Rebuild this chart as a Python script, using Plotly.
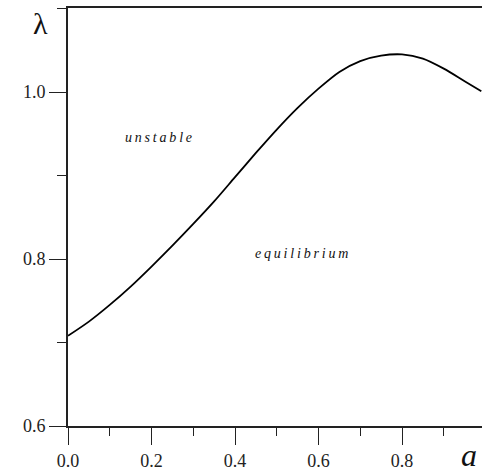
import plotly.graph_objects as go

# Stability boundary lambda(a)
a_vals = [0.00, 0.05, 0.10, 0.15, 0.20, 0.25, 0.30, 0.35, 0.40, 0.45, 0.50,
          0.55, 0.60, 0.65, 0.70, 0.75, 0.80, 0.85, 0.90, 0.95, 0.99]
lam_vals = [0.708, 0.725, 0.745, 0.767, 0.791, 0.816, 0.842, 0.869, 0.898, 0.927, 0.955,
            0.981, 1.004, 1.024, 1.037, 1.0435, 1.045, 1.040, 1.028, 1.013, 1.001]

x_ticks = [0.0, 0.2, 0.4, 0.6, 0.8]
x_labels = ["0.0", "0.2", "0.4", "0.6", "0.8"]
y_ticks = [0.6, 0.8, 1.0]
y_labels = ["0.6", "0.8", "1.0"]

serif = "'Liberation Serif', 'DejaVu Serif', serif"
thin = "\u2009"

fig = go.Figure()
fig.add_trace(go.Scatter(
    x=a_vals, y=lam_vals, mode="lines",
    line=dict(color="black", width=1.8, shape="spline", smoothing=0.8),
    hoverinfo="skip", showlegend=False,
))

axis_common = dict(
    showgrid=False, zeroline=False, showline=True, linecolor="#222", linewidth=2,
    ticks="outside", ticklen=17, tickwidth=1.2, tickcolor="#222",
    tickfont=dict(family=serif, size=18, color="#222"),
)

fig.update_xaxes(
    range=[0, 0.9916], tickvals=x_ticks, ticktext=x_labels, mirror=True,
    minor=dict(ticks="outside", ticklen=8, tickwidth=1.2, tickcolor="#222", dtick=0.1, tick0=0),
    **axis_common,
)
fig.update_yaxes(
    range=[0.6, 1.1006], tickvals=y_ticks, ticktext=y_labels,
    minor=dict(ticks="outside", ticklen=9, tickwidth=1.2, tickcolor="#222", dtick=0.1, tick0=0.6),
    **axis_common,
)

# annotations placed by pixel position inside the 482x474 canvas
plot_l, plot_r, plot_t, plot_b = 68, 482, 8, 426
def to_paper(px, py):
    return (px - plot_l) / (plot_r - plot_l), (plot_b - py) / (plot_b - plot_t)

annotations = [
    ("λ", 40, 24, 30),
    ("<i>a</i>", 469, 455, 32),
    ("<i>" + thin.join("unstable") + "</i>", 158, 138, 14),
    ("<i>" + thin.join("equilibrium") + "</i>", 301, 253, 14),
]
for text, px, py, size in annotations:
    xp, yp = to_paper(px, py)
    fig.add_annotation(xref="paper", yref="paper", x=xp, y=yp, text=text,
                       showarrow=False, xanchor="center", yanchor="middle",
                       font=dict(family=serif, size=size, color="#111"))

fig.update_layout(
    width=482, height=474,
    margin=dict(l=68, r=0, t=8, b=48),
    font=dict(family=serif),
    plot_bgcolor="white", paper_bgcolor="white",
)

fig.write_html("out.html")
